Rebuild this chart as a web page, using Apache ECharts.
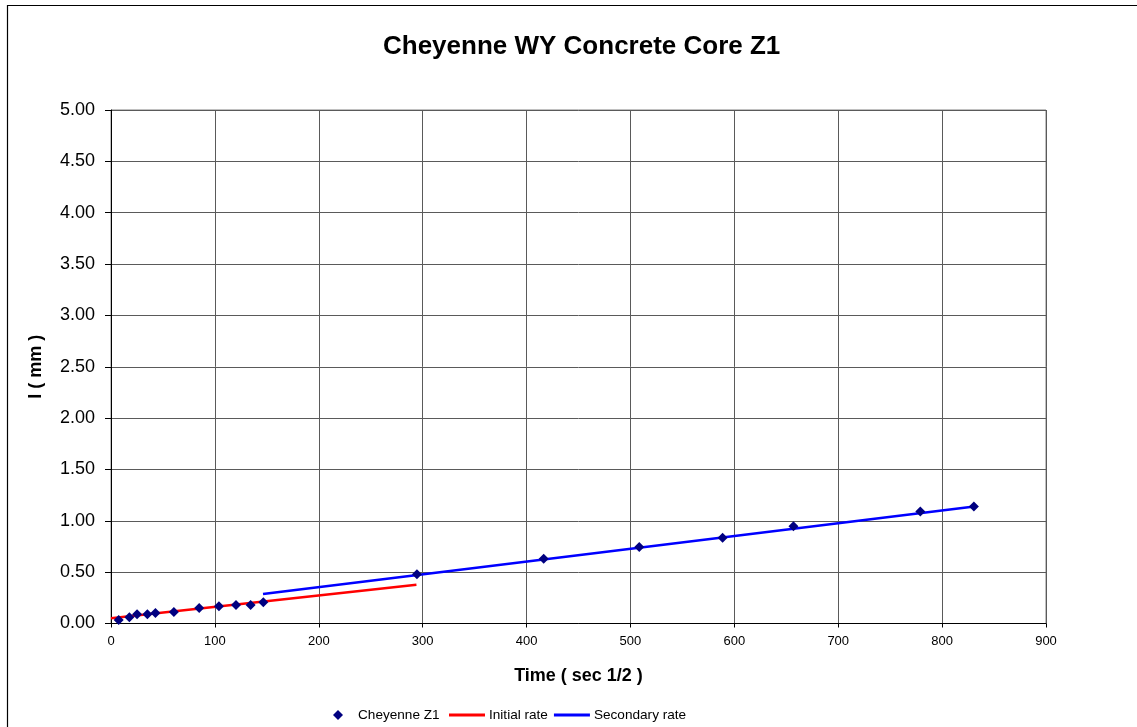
<!DOCTYPE html>
<html>
<head>
<meta charset="utf-8">
<script src="https://cdn.jsdelivr.net/npm/echarts@6/dist/echarts.min.js"></script>
<style>
  html, body { margin: 0; padding: 0; background: #fff; }
  #chart { width: 1137px; height: 727px; }
</style>
</head>
<body>
<div id="chart"></div>
<script>
// measured points, t in sec^1/2, I in mm
var times = [7.4, 17.7, 25.1, 35, 42.8, 60.5, 84.9, 103.9, 120.3, 134.4, 146.6, 294.5, 416.5, 508.5, 588.7, 656.9, 779, 830.6]
var depths = [0.035, 0.06, 0.09, 0.09, 0.103, 0.113, 0.15, 0.167, 0.18, 0.18, 0.207, 0.48, 0.63, 0.745, 0.835, 0.948, 1.09, 1.14]

// fitted rate lines, [t, I] end points
var initialRate = [[0, 0.05], [294, 0.377]]
var secondaryRate = [[146.3, 0.287], [831, 1.14]]

var font = 'Liberation Sans, Arial, sans-serif'

var chart = echarts.init(document.getElementById('chart'), null, {renderer: 'canvas'})

var points = times.map(function (t, i) { return [t, depths[i]] })

chart.setOption({
  animation: false,
  backgroundColor: '#fff',
  title: {
    text: 'Cheyenne WY Concrete Core Z1',
    left: 378,
    top: 29,
    textStyle: { fontFamily: font, fontSize: 26, fontWeight: 'bold', color: '#000' }
  },
  graphic: [{
    type: 'rect',
    shape: { x: 7.5, y: 5.5, width: 1200, height: 800 },
    style: { fill: 'none', stroke: '#000', lineWidth: 1.2 },
    silent: true
  }],
  legend: [{
    data: ['Cheyenne Z1'],
    left: 333,
    top: 708,
    padding: 0,
    itemWidth: 10,
    itemHeight: 10,
    textStyle: { fontFamily: font, fontSize: 13.6, color: '#000', padding: [0, 0, 0, 10] }
  }, {
    data: ['Initial rate', 'Secondary rate'],
    icon: 'rect',
    left: 449,
    top: 708,
    padding: 0,
    itemWidth: 36,
    itemHeight: 3,
    itemGap: 6,
    textStyle: { fontFamily: font, fontSize: 13.6, color: '#000', padding: [0, 0, 0, -1] }
  }],
  grid: {
    left: 111,
    right: 91,
    top: 110,
    bottom: 103.5,
    show: true,
    borderColor: '#808080',
    borderWidth: 1
  },
  xAxis: {
    type: 'value',
    min: 0,
    max: 900,
    interval: 100,
    name: 'Time ( sec 1/2 )',
    nameLocation: 'middle',
    nameGap: 44,
    nameTextStyle: { fontFamily: font, fontSize: 18, fontWeight: 'bold', color: '#000' },
    axisLine: { show: true, lineStyle: { color: '#000', width: 1 } },
    axisTick: { show: true, length: 4, lineStyle: { color: '#000' } },
    axisLabel: { margin: 11, fontFamily: font, fontSize: 13, color: '#000' },
    splitLine: { show: true, lineStyle: { color: '#5a5a5a', width: 1 } }
  },
  yAxis: {
    type: 'value',
    min: 0,
    max: 5,
    interval: 0.5,
    name: 'I ( mm )',
    nameLocation: 'middle',
    nameGap: 66,
    nameTextStyle: { fontFamily: font, fontSize: 18, fontWeight: 'bold', color: '#000' },
    axisLine: { show: true, lineStyle: { color: '#000', width: 1 } },
    axisTick: { show: true, length: 6, lineStyle: { color: '#000' } },
    axisLabel: {
      margin: 16,
      fontFamily: font,
      fontSize: 18,
      color: '#000',
      formatter: function (v) { return v.toFixed(2) }
    },
    splitLine: { show: true, lineStyle: { color: '#5a5a5a', width: 1 } }
  },
  series: [{
    name: 'Initial rate',
    type: 'line',
    data: initialRate,
    symbol: 'none',
    lineStyle: { color: '#ff0000', width: 2.5 },
    itemStyle: { color: '#ff0000' },
    z: 2
  }, {
    name: 'Secondary rate',
    type: 'line',
    data: secondaryRate,
    symbol: 'none',
    lineStyle: { color: '#0000ff', width: 2.5 },
    itemStyle: { color: '#0000ff' },
    z: 2
  }, {
    name: 'Cheyenne Z1',
    type: 'scatter',
    data: points,
    symbol: 'diamond',
    symbolSize: 10,
    itemStyle: { color: '#000080', opacity: 1 },
    z: 3
  }]
})
</script>
</body>
</html>
